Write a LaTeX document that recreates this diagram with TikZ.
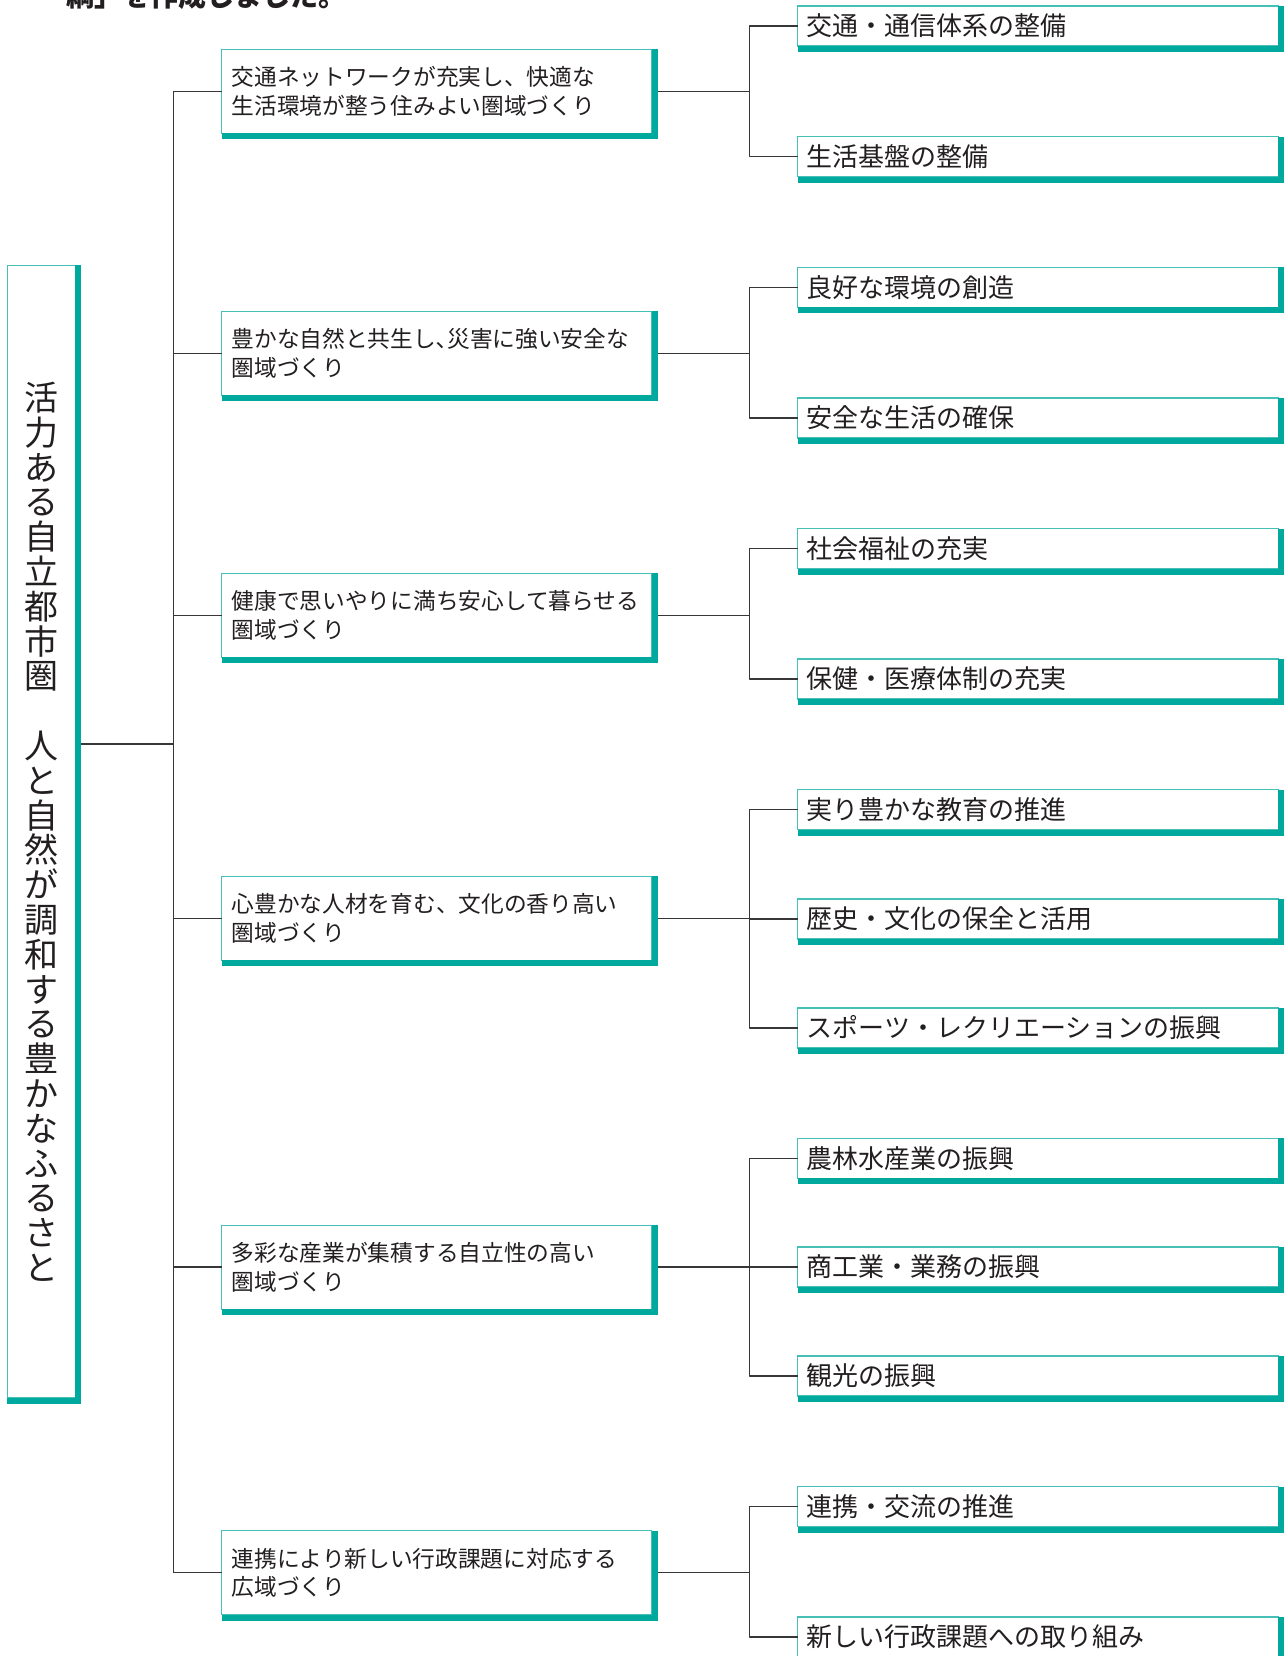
\documentclass[tikz,border=0pt]{standalone}
\usepackage{fontspec}
\setmainfont{Noto Sans CJK JP}
\definecolor{shadeColor}{RGB}{0,169,157}
\definecolor{edgeColor}{RGB}{70,192,182}
\definecolor{lineColor}{RGB}{55,55,55}
\definecolor{textColor}{RGB}{35,31,32}
\tikzset{
  conn/.style={draw=lineColor,line width=0.75pt,line join=round},
  basebox/.style={draw=edgeColor,line width=0.7pt,fill=white,anchor=north west,
    outer sep=0pt,text=textColor},
  rootbox/.style={basebox,inner sep=0pt,minimum width=34pt,minimum height=566.35pt,
    align=center,font=\fontsize{17pt}{17.4pt}\selectfont},
  areabox/.style={basebox,inner xsep=5pt,inner ysep=0pt,minimum width=215pt,
    minimum height=42pt,text width=205pt,align=left,
    font=\fontsize{11.35pt}{14.25pt}\selectfont},
  itembox/.style={basebox,inner xsep=4.5pt,inner ysep=0pt,minimum width=240.3pt,
    minimum height=20pt,text width=231.3pt,align=left,
    font=\fontsize{13pt}{14pt}\selectfont}
}
\begin{document}
\begin{tikzpicture}[x=0.5pt,y=-0.5pt]
\path[use as bounding box,fill=white] (0,0) rectangle (1288,1656);
\begin{scope}
\path[clip] (0,0) rectangle (1288,1656);

% lead line, cut by the page edge
\node[anchor=base west,inner sep=0pt,text=textColor,
  font=\bfseries\fontsize{14pt}{14pt}\selectfont] (lead) at (66,6.5) {綱」を作成しました。};

% root
\node[rootbox] (root) at (7.3,265.3) {活\\力\\あ\\る\\自\\立\\都\\市\\圏\\　\\人\\と\\自\\然\\が\\調\\和\\す\\る\\豊\\か\\な\\ふ\\る\\さ\\と};

% areas
\node[areabox] (m1) at (221.7,  49.3) {交通ネットワークが充実し、快適な\\生活環境が整う住みよい圏域づくり};
\node[areabox] (m2) at (221.7, 311.3) {豊かな自然と共生し､災害に強い安全な\\圏域づくり};
\node[areabox] (m3) at (221.7, 573.3) {健康で思いやりに満ち安心して暮らせる\\圏域づくり};
\node[areabox] (m4) at (221.7, 876.4) {心豊かな人材を育む、文化の香り高い\\圏域づくり};
\node[areabox] (m5) at (221.7,1225.2) {多彩な産業が集積する自立性の高い\\圏域づくり};
\node[areabox] (m6) at (221.7,1530.7) {連携により新しい行政課題に対応する\\広域づくり};

% items
\node[itembox] (r1)  at (797.7,   6.0) {交通・通信体系の整備};
\node[itembox] (r2)  at (797.7, 136.7) {生活基盤の整備};
\node[itembox] (r3)  at (797.7, 267.3) {良好な環境の創造};
\node[itembox] (r4)  at (797.7, 398.0) {安全な生活の確保};
\node[itembox] (r5)  at (797.7, 528.5) {社会福祉の充実};
\node[itembox] (r6)  at (797.7, 659.0) {保健・医療体制の充実};
\node[itembox] (r7)  at (797.7, 789.5) {実り豊かな教育の推進};
\node[itembox] (r8)  at (797.7, 898.8) {歴史・文化の保全と活用};
\node[itembox] (r9)  at (797.7,1008.0) {スポーツ・レクリエーションの振興};
\node[itembox] (r10) at (797.7,1138.3) {農林水産業の振興};
\node[itembox] (r11) at (797.7,1247.0) {商工業・業務の振興};
\node[itembox] (r12) at (797.7,1356.0) {観光の振興};
\node[itembox] (r13) at (797.7,1486.5) {連携・交流の推進};
\node[itembox] (r14) at (797.7,1617.0) {新しい行政課題への取り組み};

\coordinate (rj) at (173.3,743.8);
\coordinate (br) at (749.3,0);

% connectors
\draw[conn] (root.east |- rj) -- (rj);
\draw[conn] (m1.west -| rj) -- (m6.west -| rj);
\foreach \n in {m1,m2,m3,m4,m5,m6}{
  \draw[conn] (\n.west) -- (\n.west -| rj);
  \draw[conn] (\n.east) -- (\n.east -| br);
}
\draw[conn] (r1.west) -| (br |- r2.west) -- (r2.west);
\draw[conn] (r3.west) -| (br |- r4.west) -- (r4.west);
\draw[conn] (r5.west) -| (br |- r6.west) -- (r6.west);
\draw[conn] (r7.west) -| (br |- r9.west) -- (r9.west);
\draw[conn] (r8.west) -- (r8.west -| br);
\draw[conn] (r10.west) -| (br |- r12.west) -- (r12.west);
\draw[conn] (r11.west) -- (r11.west -| br);
\draw[conn] (r13.west) -| (br |- r14.west) -- (r14.west);

% thick edges right and below
\foreach \n in {root,m1,m2,m3,m4,m5,m6,r1,r2,r3,r4,r5,r6,r7,r8,r9,r10,r11,r12,r13,r14}{
  \fill[shadeColor] (\n.north east) rectangle ([shift={(6,6)}]\n.south east);
  \fill[shadeColor] (\n.south west) rectangle ([shift={(6,6)}]\n.south east);
}
\end{scope}
\end{tikzpicture}
\end{document}
